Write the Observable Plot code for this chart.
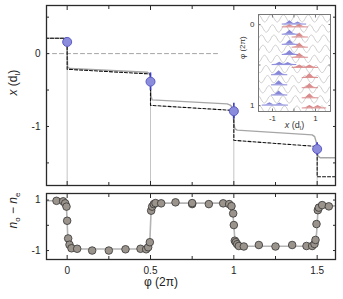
<!DOCTYPE html>
<html><head><meta charset="utf-8">
<script src="https://cdn.jsdelivr.net/npm/d3@7"></script>
<script src="https://cdn.jsdelivr.net/npm/@observablehq/plot@0.6"></script>
<style>
body{margin:0;background:#fff;}
#c{position:relative;width:343px;height:299px;font-family:"Liberation Sans",Arial,sans-serif;}
#c svg{position:absolute;overflow:visible;}
</style></head><body><div id="c"></div>
<script>
// ---------- top panel data ----------
const phiPts = [0, 0.5, 1, 1.5];
const xPts = [0.16, -0.385, -0.79, -1.31];
const xErr = [0.05, 0.12, 0.11, 0.085];
const theoryPhi = [-0.13, -0.003, 0.003, 0.02, 0.48, 0.492, 0.498, 0.503, 0.51, 0.96, 0.982, 0.994, 1.0, 1.006, 1.02, 1.47, 1.485, 1.495, 1.5, 1.506, 1.52, 1.62];
const theoryX = [0.21, 0.21, -0.19, -0.205, -0.255, -0.27, -0.32, -0.58, -0.635, -0.69, -0.71, -0.78, -0.95, -1.03, -1.05, -1.115, -1.14, -1.22, -1.35, -1.41, -1.43, -1.43];
const simPhi = [-0.13, 0, 0, 0.5, 0.5, 1, 1, 1.5, 1.5, 1.62];
const simX = [0.21, 0.21, -0.215, -0.28, -0.71, -0.78, -1.19, -1.275, -1.69, -1.69];
const refPhi = [-0.13, 0.91];
const refX = [0, 0];
const yTicksTop = [0.5, 0, -0.5, -1, -1.5];
const yLabelsTop = [0, -1];
const xTicksMajor = [0, 0.5, 1, 1.5];
const xTicksMinor = [0.25, 0.75, 1.25];

// ---------- bottom panel data ----------
const nPhi = [-0.064, -0.024, -0.012, -0.004, 0, 0.006, 0.014, 0.026, 0.06, 0.15, 0.25, 0.35, 0.44, 0.474, 0.486, 0.496, 0.504, 0.51, 0.52, 0.53, 0.564, 0.65, 0.75, 0.75, 0.85, 0.936, 0.972, 0.986, 0.996, 1.0, 1.006, 1.012, 1.02, 1.03, 1.06, 1.15, 1.25, 1.35, 1.436, 1.47, 1.484, 1.49, 1.496, 1.504, 1.51, 1.53, 1.57];
const nVal = [0.97, 0.95, 0.87, 0.74, 0.18, -0.52, -0.77, -0.91, -0.93, -1.0, -1.0, -0.95, -0.93, -0.95, -0.87, -0.67, 0.58, 0.74, 0.84, 0.88, 0.87, 0.91, 0.84, 0.88, 0.84, 0.87, 0.84, 0.76, 0.47, 0.01, -0.61, -0.67, -0.75, -0.82, -0.84, -0.78, -0.84, -0.78, -0.82, -0.82, -0.74, -0.58, 0.05, 0.6, 0.7, 0.8, 0.75];
const nLinePhi = [-0.13, -0.03, -0.015, -0.005, 0, 0.005, 0.015, 0.03, 0.06, 0.47, 0.485, 0.495, 0.5, 0.505, 0.515, 0.53, 0.56, 0.95, 0.975, 0.99, 1.0, 1.008, 1.02, 1.04, 1.06, 1.46, 1.48, 1.49, 1.5, 1.505, 1.515, 1.53, 1.62];
const nLineVal = [0.97, 0.97, 0.92, 0.75, 0.1, -0.6, -0.85, -0.92, -0.94, -0.94, -0.9, -0.7, 0, 0.65, 0.8, 0.86, 0.88, 0.88, 0.85, 0.7, 0, -0.65, -0.77, -0.82, -0.83, -0.83, -0.79, -0.65, 0, 0.6, 0.72, 0.77, 0.77];
const yTicksBot = [1, 0, -1];
const yLabelsBot = [1, -1];

// ---------- inset data ----------
const waveProfile = [1, 0.71, 0, -0.71, -1, -0.71, 0, 0.71];
const waveRows = [-0.075, 0.05, 0.175, 0.3, 0.425, 0.55, 0.675, 0.8, 0.925, 1.05];
const wavePhase = [0, 0.07, 0.14, 0.21, 0.28, 0.35, 0.42, 0.49, 0.56, 0.63];
const wavePeriod = 0.58, waveAmp = 0.045;
const packetRows = [0, 0.125, 0.25, 0.375, 0.5, 0.625, 0.75, 0.875, 1];
const blueCenters = [[-0.19, 0.19], [-0.19], [-0.19], [-0.19], [-0.66, -0.27], [-0.69], [-0.69], [-0.69], [-1.12, -0.66]];
const blueHeights = [[0.04, 0.025], [0.05], [0.05], [0.05], [0.03, 0.025], [0.05], [0.05], [0.05], [0.03, 0.025]];
const redCenters = [[-0.19, 0.27], [0.27], [0.27], [0.27], [0.27, 0.74], [0.74], [0.74], [0.74], [0.74, 1.12]];
const redHeights = [[0.028, 0.032], [0.05], [0.05], [0.05], [0.03, 0.03], [0.05], [0.05], [0.05], [0.03, 0.03]];
const humpDx = [-0.3, -0.17, -0.09, 0, 0.09, 0.17, 0.3];
const humpShape = [0, 0.15, 0.55, 1, 0.55, 0.15, 0];

const FONT = '"Liberation Sans", Arial, sans-serif';
const FRAME = "#2a2a2a";
const c = document.getElementById("c");

function place(svg, left, top) {
  svg.style.left = left + "px";
  svg.style.top = top + "px";
  c.appendChild(svg);
  return svg;
}
function rich(svg, key, parts) {
  d3.select(svg).selectAll("text").each(function () {
    if (this.textContent === key) {
      const t = d3.select(this);
      t.text(null);
      for (const p of parts) {
        const s = t.append("tspan").text(p.t);
        if (p.i) s.attr("font-style", "italic");
        if (p.dy) s.attr("dy", p.dy);
        if (p.fs) s.attr("font-size", p.fs);
      }
    }
  });
}

// ---------- top panel ----------
const pts = phiPts.map((p, i) => ({p, v: xPts[i], e: xErr[i]}));
const theory = theoryPhi.map((p, i) => ({p, v: theoryX[i]}));
const sim = simPhi.map((p, i) => ({p, v: simX[i]}));
const ref = refPhi.map((p, i) => ({p, v: refX[i]}));
const topDomY = [-1.81, 0.66];
const topPlot = Plot.plot({
  width: 343, height: 190, marginLeft: 46, marginRight: 8, marginTop: 5, marginBottom: 5,
  x: {domain: [-0.124, 1.61]}, y: {domain: topDomY},
  style: {fontFamily: FONT, fontSize: "10px", color: "#222", background: "transparent"},
  marks: [
    Plot.line(ref, {x: "p", y: "v", stroke: "#9a9a9a", strokeDasharray: "4,3", strokeWidth: 0.9, clip: true}),
    Plot.ruleX(pts, {x: "p", y1: "v", y2: topDomY[0], stroke: "#c4c4c4", strokeWidth: 1}),
    Plot.line(theory, {x: "p", y: "v", stroke: "#a6a6a6", strokeWidth: 1.4, clip: true}),
    Plot.line(sim, {x: "p", y: "v", stroke: "#111", strokeDasharray: "3,2", strokeWidth: 1.1, clip: true}),
    Plot.ruleX(pts, {x: "p", y1: d => d.v - d.e, y2: d => d.v + d.e, stroke: "#3a3ac4", strokeWidth: 1.6}),
    Plot.dot(pts, {x: "p", y: "v", r: 4.5, fill: "#8c8cdc", stroke: "#5a5ac8", strokeWidth: 1}),
    Plot.frame({stroke: FRAME, strokeWidth: 1.3}),
    Plot.axisY(yTicksTop, {anchor: "left", tickSize: -3, tickFormat: () => "", label: null, stroke: FRAME}),
    Plot.axisY(yTicksTop, {anchor: "right", tickSize: -3, tickFormat: () => "", label: null, stroke: FRAME}),
    Plot.axisY(yLabelsTop, {anchor: "left", tickSize: 0, tickPadding: 6, tickFormat: d => String(d), label: null}),
    Plot.axisX(xTicksMajor, {anchor: "bottom", tickSize: -4, tickFormat: () => "", label: null, stroke: FRAME}),
    Plot.axisX(xTicksMinor, {anchor: "bottom", tickSize: -3, tickFormat: () => "", label: null, stroke: FRAME}),
    Plot.axisX(xTicksMajor, {anchor: "top", tickSize: -4, tickFormat: () => "", label: null, stroke: FRAME}),
    Plot.axisX(xTicksMinor, {anchor: "top", tickSize: -3, tickFormat: () => "", label: null, stroke: FRAME}),
    Plot.text(["x (d_l)"], {frameAnchor: "left", dx: -33, rotate: -90, fontSize: 12, fill: "#222"})
  ]
});
place(topPlot, 0, 0);
rich(topPlot, "x (d_l)", [{t: "x", i: true}, {t: " (d"}, {t: "l", dy: 3, fs: 8}, {t: ")", dy: -3}]);

// ---------- bottom panel ----------
const nPts = nPhi.map((p, i) => ({p, v: nVal[i]}));
const nLine = nLinePhi.map((p, i) => ({p, v: nLineVal[i]}));
const botPlot = Plot.plot({
  width: 343, height: 111, marginLeft: 46, marginRight: 8, marginTop: 5, marginBottom: 40,
  x: {domain: [-0.124, 1.61]}, y: {domain: [-1.355, 1.26]},
  style: {fontFamily: FONT, fontSize: "10px", color: "#222", background: "transparent"},
  marks: [
    Plot.line(nLine, {x: "p", y: "v", stroke: "#b4b4b4", strokeWidth: 1.6, curve: "monotone-x", clip: true}),
    Plot.dot(nPts, {x: "p", y: "v", r: 3.8, fill: "#9b948c", stroke: "#333", strokeWidth: 0.8}),
    Plot.frame({stroke: FRAME, strokeWidth: 1.3}),
    Plot.axisY(yTicksBot, {anchor: "left", tickSize: -3, tickFormat: () => "", label: null, stroke: FRAME}),
    Plot.axisY(yTicksBot, {anchor: "right", tickSize: -3, tickFormat: () => "", label: null, stroke: FRAME}),
    Plot.axisY(yLabelsBot, {anchor: "left", tickSize: 0, tickPadding: 6, tickFormat: d => String(d), label: null}),
    Plot.axisX(xTicksMajor, {anchor: "bottom", tickSize: -4, tickFormat: () => "", label: null, stroke: FRAME}),
    Plot.axisX(xTicksMinor, {anchor: "bottom", tickSize: -3, tickFormat: () => "", label: null, stroke: FRAME}),
    Plot.axisX(xTicksMajor, {anchor: "top", tickSize: -4, tickFormat: () => "", label: null, stroke: FRAME}),
    Plot.axisX(xTicksMinor, {anchor: "top", tickSize: -3, tickFormat: () => "", label: null, stroke: FRAME}),
    Plot.axisX(xTicksMajor, {anchor: "bottom", tickSize: 0, tickPadding: 7, tickFormat: d => String(d), label: null}),
    Plot.text(["φ (2π)"], {frameAnchor: "bottom", dx: -30, dy: 26, fontSize: 12, fill: "#222"}),
    Plot.text(["n_o − n_e"], {frameAnchor: "left", dx: -33, dy: 2, rotate: -90, fontSize: 12, fill: "#222"})
  ]
});
place(botPlot, 0, 188);
rich(botPlot, "n_o − n_e", [{t: "n", i: true}, {t: "o", dy: 3, fs: 8}, {t: " − ", dy: -3}, {t: "n", i: true}, {t: "e", dy: 3, fs: 8}]);

// ---------- inset ----------
const waves = [];
waveRows.forEach((row, r) => {
  const step = wavePeriod / waveProfile.length;
  for (let k = 0; k < 60; k++) {
    const x = -1.65 - wavePeriod + wavePhase[r] + k * step;
    if (x > 1.75) break;
    waves.push({row: r, x, y: row - waveAmp * waveProfile[k % waveProfile.length]});
  }
});
function packets(centers, heights, shift) {
  const areas = [], bases = [];
  packetRows.forEach((row, r) => {
    const base = row + shift;
    centers[r].forEach((cx, j) => {
      humpDx.forEach((dx, k) => areas.push({id: r + "-" + j, x: cx + dx, y1: base, y2: base - heights[r][j] * humpShape[k]}));
    });
    const lo = Math.min(...centers[r]) - 0.36, hi = Math.max(...centers[r]) + 0.36;
    bases.push({id: r, x: lo, y: base}, {id: r, x: hi, y: base});
  });
  return {areas, bases};
}
const blue = packets(blueCenters, blueHeights, -0.005);
const red = packets(redCenters, redHeights, 0.03);
const insetPlot = Plot.plot({
  width: 115, height: 128, marginLeft: 38, marginRight: 5, marginTop: 6, marginBottom: 25,
  x: {domain: [-1.65, 1.7]}, y: {domain: [-0.123, 1.074], reverse: true},
  style: {fontFamily: FONT, fontSize: "8px", color: "#333", background: "transparent"},
  marks: [
    Plot.frame({fill: "white", stroke: "none"}),
    Plot.line(waves, {x: "x", y: "y", z: "row", stroke: "#c2c2c2", strokeWidth: 0.8, curve: "catmull-rom", clip: true}),
    Plot.areaY(blue.areas, {x: "x", y1: "y1", y2: "y2", z: "id", fill: "#7272d4", fillOpacity: 0.85}),
    Plot.line(blue.bases, {x: "x", y: "y", z: "id", stroke: "#7a7ad6", strokeWidth: 0.9}),
    Plot.areaY(red.areas, {x: "x", y1: "y1", y2: "y2", z: "id", fill: "#d67a7a", fillOpacity: 0.85}),
    Plot.line(red.bases, {x: "x", y: "y", z: "id", stroke: "#d88080", strokeWidth: 0.9}),
    Plot.frame({stroke: "#777", strokeWidth: 1}),
    Plot.axisX([-1, 0, 1], {anchor: "bottom", tickSize: -2.5, tickFormat: () => "", label: null, stroke: "#777"}),
    Plot.axisX([-1, 0, 1], {anchor: "top", tickSize: -2.5, tickFormat: () => "", label: null, stroke: "#777"}),
    Plot.axisY([0, 0.5, 1], {anchor: "left", tickSize: -2.5, tickFormat: () => "", label: null, stroke: "#777"}),
    Plot.axisY([0, 0.5, 1], {anchor: "right", tickSize: -2.5, tickFormat: () => "", label: null, stroke: "#777"}),
    Plot.axisX([-1, 1], {anchor: "bottom", tickSize: 0, tickPadding: 4, tickFormat: d => String(d), label: null}),
    Plot.axisY([0, 1], {anchor: "left", tickSize: 0, tickPadding: 4, tickFormat: d => String(d), label: null}),
    Plot.text(["x (d_l)"], {frameAnchor: "bottom", dy: 16, fontSize: 9, fill: "#333"}),
    Plot.text(["φ (2π)"], {frameAnchor: "left", dx: -16, dy: -4, rotate: -90, fontSize: 8, fill: "#333"})
  ]
});
place(insetPlot, 220, 8);
rich(insetPlot, "x (d_l)", [{t: "x", i: true}, {t: " (d"}, {t: "l", dy: 2, fs: 6}, {t: ")", dy: -2}]);
</script></body></html>
